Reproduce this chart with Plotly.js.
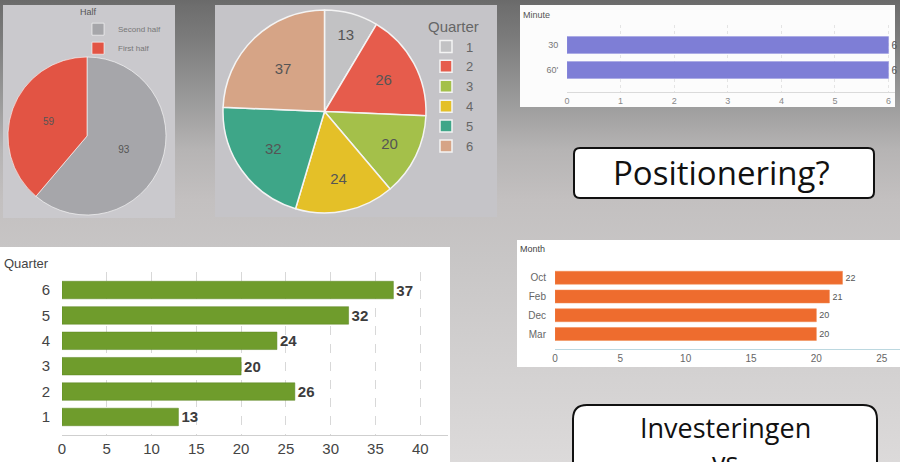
<!DOCTYPE html>
<html>
<head>
<meta charset="utf-8">
<script src="https://cdn.plot.ly/plotly-3.0.1.min.js"></script>
<style>
html,body{margin:0;padding:0;width:900px;height:462px;overflow:hidden;
background:linear-gradient(to bottom,#6a6a6a 0px,#6e6e6e 6px,#7c7c7c 40px,#9a9a9a 100px,#b6b4b4 150px,#c3c0c0 200px,#c8c6c6 260px,#d2d0d0 360px,#dcdada 462px);}
#chart{width:900px;height:462px;}
</style>
</head>
<body>
<div id="chart"></div>
<script>
// ---- data ----
const halfLabels = ['Second half', 'First half'];
const halfValues = [93, 59];

const quarterLabels = ['1', '2', '3', '4', '5', '6'];
const quarterValues = [13, 26, 20, 24, 32, 37];

const minuteLabels = ["60'", '30'];
const minuteValues = [6, 6];

const monthLabels = ['Mar', 'Dec', 'Feb', 'Oct'];
const monthValues = [20, 20, 21, 22];

// ---- helpers (pixel -> paper) ----
const W = 900, H = 462;
const px = x => x / W;
const py = y => 1 - y / H;
function rrect(x0, y0, x1, y1, r) {
  const P = (x, y) => px(x).toFixed(5) + ',' + py(y).toFixed(5);
  return 'M' + P(x0 + r, y0) + ' L' + P(x1 - r, y0) + ' Q' + P(x1, y0) + ' ' + P(x1, y0 + r) +
    ' L' + P(x1, y1 - r) + ' Q' + P(x1, y1) + ' ' + P(x1 - r, y1) +
    ' L' + P(x0 + r, y1) + ' Q' + P(x0, y1) + ' ' + P(x0, y1 - r) +
    ' L' + P(x0, y0 + r) + ' Q' + P(x0, y0) + ' ' + P(x0 + r, y0) + ' Z';
}
function rect(x0, y0, x1, y1, fill) {
  return {type: 'rect', xref: 'paper', yref: 'paper', x0: px(x0), x1: px(x1), y0: py(y1), y1: py(y0),
    fillcolor: fill, line: {width: 0}, layer: 'below'};
}

const traces = [
  {
    type: 'pie', labels: halfLabels, values: halfValues, sort: false, direction: 'clockwise', rotation: 0,
    domain: {x: [px(8), px(166)], y: [py(215), py(57)]},
    marker: {colors: ['#a6a6aa', '#e25444'], line: {color: 'rgba(255,255,255,0.6)', width: 1}},
    textinfo: 'value', textposition: 'inside', insidetextorientation: 'horizontal',
    textfont: {size: 10, color: '#555', family: 'Arial'},
    legend: 'legend', showlegend: true, hoverinfo: 'label+value'
  },
  {
    type: 'pie', labels: quarterLabels, values: quarterValues, sort: false, direction: 'clockwise', rotation: 0,
    domain: {x: [px(223), px(426)], y: [py(213), py(10)]},
    marker: {colors: ['#c2c2c4', '#e65c4c', '#a4c04a', '#e4c028', '#3ea688', '#d6a486'],
      line: {color: '#f4f4f4', width: 1.5}},
    textinfo: 'value', textposition: 'inside', insidetextorientation: 'horizontal',
    textfont: {size: 15, color: '#555', family: 'Arial'},
    legend: 'legend2', showlegend: true, hoverinfo: 'label+value'
  },
  {
    type: 'bar', orientation: 'h', x: quarterValues, y: quarterLabels, xaxis: 'x', yaxis: 'y',
    width: 0.69, marker: {color: '#6f9c2c', line: {color: '#5a8420', width: 0.5}},
    text: quarterValues.map(String), textposition: 'outside', cliponaxis: false,
    textfont: {size: 15, color: '#3c3c3c', family: 'Arial', weight: 'bold'},
    showlegend: false, hoverinfo: 'x+y'
  },
  {
    type: 'bar', orientation: 'h', x: minuteValues, y: minuteLabels, xaxis: 'x2', yaxis: 'y2',
    width: 0.68, marker: {color: '#7e7ed6', line: {color: '#9a9ae0', width: 0.5}},
    text: minuteValues.map(String), textposition: 'outside', cliponaxis: false,
    textfont: {size: 10, color: '#555', family: 'Arial'},
    showlegend: false, hoverinfo: 'x+y'
  },
  {
    type: 'bar', orientation: 'h', x: monthValues, y: monthLabels, xaxis: 'x3', yaxis: 'y3',
    width: 0.69, marker: {color: '#ee6c2e', line: {color: '#f08850', width: 0.5}},
    text: monthValues.map(String), textposition: 'outside', cliponaxis: false,
    textfont: {size: 9, color: '#555', family: 'Arial'},
    showlegend: false, hoverinfo: 'x+y'
  }
];

const axFont = {family: 'Arial, Liberation Sans', color: '#444'};

const layout = {
  width: W, height: H,
  margin: {l: 0, r: 0, t: 0, b: 0, pad: 0},
  paper_bgcolor: 'rgba(0,0,0,0)', plot_bgcolor: 'rgba(0,0,0,0)',
  font: {family: 'Arial, Liberation Sans', color: '#444'},
  hovermode: 'closest',
  xaxis: {domain: [px(62), px(448)], range: [0, 43.1], dtick: 5, anchor: 'y',
    showgrid: true, gridcolor: '#d8d8d8', griddash: 'dash', gridwidth: 1,
    showline: true, linecolor: '#cfcfcf', zeroline: false, ticks: '',
    tickfont: Object.assign({size: 15}, axFont), fixedrange: true},
  yaxis: {domain: [py(435), py(272)], type: 'category', range: [-0.71, 5.71], anchor: 'x',
    showgrid: false, zeroline: false, showline: false, ticks: 'outside', ticklen: 8, tickcolor: 'rgba(0,0,0,0)',
    tickfont: Object.assign({size: 15}, axFont), fixedrange: true},
  xaxis2: {domain: [px(567), px(895)], range: [0, 6.12], dtick: 1, anchor: 'y2',
    showgrid: true, gridcolor: '#e4e4e4', griddash: 'dot', showline: true, linecolor: '#dadada',
    zeroline: false, ticks: '', tickfont: {size: 9, color: '#888', family: 'Arial'}, fixedrange: true},
  yaxis2: {domain: [py(92), py(25)], type: 'category', range: [-0.88, 1.8], anchor: 'x2',
    showgrid: false, zeroline: false, ticks: 'outside', ticklen: 6, tickcolor: 'rgba(0,0,0,0)',
    tickfont: {size: 9, color: '#777', family: 'Arial'}, fixedrange: true},
  xaxis3: {domain: [px(555), 1], range: [0, 26.4], dtick: 5, anchor: 'y3',
    showgrid: false, showline: true, linecolor: '#bcd8e0', zeroline: false, ticks: '',
    tickfont: {size: 10, color: '#666', family: 'Arial'}, fixedrange: true},
  yaxis3: {domain: [py(349), py(262)], type: 'category', range: [-0.8, 3.84], anchor: 'x3',
    showgrid: false, zeroline: false, ticks: 'outside', ticklen: 6, tickcolor: 'rgba(0,0,0,0)',
    tickfont: {size: 10, color: '#666', family: 'Arial'}, fixedrange: true},
  legend: {x: px(78), y: py(3), xanchor: 'left', yanchor: 'top', bgcolor: 'rgba(0,0,0,0)',
    title: {text: 'Half', font: {size: 9, color: '#555'}}, font: {size: 8, color: '#777'},
    itemwidth: 30, tracegroupgap: 0},
  legend2: {x: px(426), y: py(12), xanchor: 'left', yanchor: 'top', bgcolor: 'rgba(0,0,0,0)',
    title: {text: 'Quarter', font: {size: 15, color: '#666'}, side: 'top'},
    font: {size: 13, color: '#666'}, itemwidth: 30},
  shapes: [
    rect(3, 5, 175, 218, '#cac9cd'),
    rect(215, 5, 497, 217, '#c5c4c8'),
    rect(520, 5, 895, 107, '#fcfcfc'),
    rect(0, 247, 450, 462, '#ffffff'),
    rect(517, 240, 900, 367, '#ffffff'),
    {type: 'path', xref: 'paper', yref: 'paper', path: rrect(574, 148, 874, 198, 6),
      fillcolor: '#ffffff', line: {color: '#111', width: 2}},
    {type: 'path', xref: 'paper', yref: 'paper', path: rrect(573, 405, 877, 500, 14),
      fillcolor: '#ffffff', line: {color: '#111', width: 2}}
  ],
  annotations: [
    {xref: 'paper', yref: 'paper', x: px(2), y: py(263), xanchor: 'left', yanchor: 'middle',
      text: 'Quarter', showarrow: false, font: {size: 13, color: '#444', family: 'Arial'}},
    {xref: 'paper', yref: 'paper', x: px(521), y: py(15), xanchor: 'left', yanchor: 'middle',
      text: 'Minute', showarrow: false, font: {size: 9, color: '#555', family: 'Arial'}},
    {xref: 'paper', yref: 'paper', x: px(518), y: py(249), xanchor: 'left', yanchor: 'middle',
      text: 'Month', showarrow: false, font: {size: 9, color: '#444', family: 'Arial'}},
    {xref: 'paper', yref: 'paper', x: px(721), y: py(173), xanchor: 'center', yanchor: 'middle',
      text: 'Positionering?', showarrow: false, font: {size: 33, color: '#111', family: 'Open Sans'}},
    {xref: 'paper', yref: 'paper', x: px(725), y: py(427), xanchor: 'center', yanchor: 'middle',
      text: 'Investeringen', showarrow: false, font: {size: 27, color: '#111', family: 'Open Sans'}},
    {xref: 'paper', yref: 'paper', x: px(725), y: py(461), xanchor: 'center', yanchor: 'middle',
      text: 'vs', showarrow: false, font: {size: 27, color: '#111', family: 'Open Sans'}}
  ]
};

Plotly.newPlot('chart', traces, layout, {displayModeBar: false, staticPlot: true});
</script>
</body>
</html>
